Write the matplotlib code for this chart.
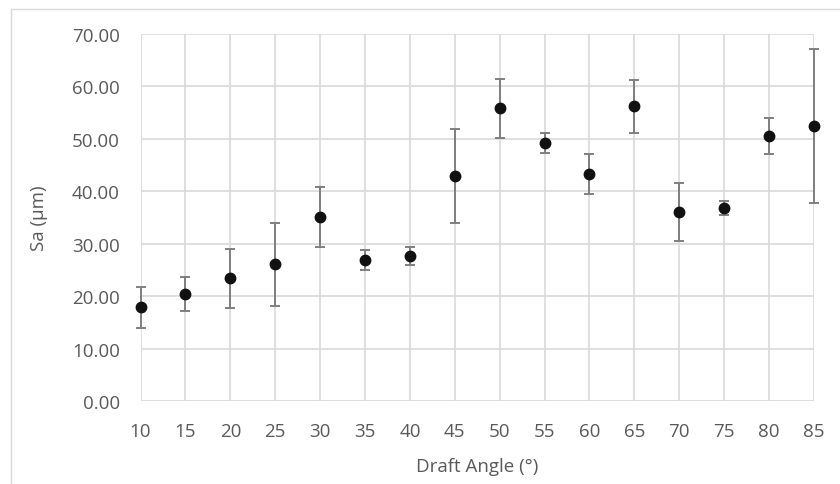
import matplotlib
matplotlib.use("Agg")
import matplotlib.pyplot as plt
from matplotlib.patches import Rectangle

# Surface roughness vs. draft angle
angles = [10, 15, 20, 25, 30, 35, 40, 45, 50, 55, 60, 65, 70, 75, 80, 85]
sa_mean = [17.9, 20.4, 23.4, 26.1, 35.1, 26.9, 27.6, 42.9,
           55.8, 49.2, 43.3, 56.2, 36.1, 36.8, 50.6, 52.4]
sa_err = [3.9, 3.2, 5.6, 7.9, 5.8, 1.95, 1.7, 9.0,
          5.7, 1.85, 3.85, 5.1, 5.55, 1.35, 3.45, 14.7]

TEXT = "#595959"
GRID = "#d9d9d9"

plt.rcParams["font.family"] = ["Open Sans", "DejaVu Sans"]

fig = plt.figure(figsize=(8.4, 4.85), dpi=100)
ax = fig.add_axes([0.1673, 0.1711, 0.8017, 0.7567])

# chart area border (only top/left edges fall inside the image)
fig.patches.append(Rectangle((11 / 840, -0.1), 1.0, 1 - 9.5 / 485 + 0.1,
                             transform=fig.transFigure, fill=False,
                             edgecolor=GRID, linewidth=1.0))

ax.errorbar(angles, sa_mean, yerr=sa_err, fmt="o", color="#111111",
            markersize=7.5, ecolor="#7f7f7f", elinewidth=1.4,
            capsize=3.6, capthick=1.4, zorder=3, clip_on=False)

ax.set_xlim(10, 85)
ax.set_ylim(0, 70)
ax.set_xticks(angles)
ax.set_yticks(range(0, 71, 10))
ax.set_yticklabels([f"{v:.2f}" for v in range(0, 71, 10)])

ax.grid(True, color=GRID, linewidth=1.2)
ax.set_axisbelow(True)
for s in ax.spines.values():
    s.set_visible(False)
ax.tick_params(length=0, colors=TEXT, labelsize=13.5)
ax.tick_params(axis="x", pad=15)
ax.tick_params(axis="y", pad=15)

ax.set_xlabel("Draft Angle (°)", color=TEXT, fontsize=13.5, labelpad=12)
ax.set_ylabel("Sa (µm)", color=TEXT, fontsize=13.5, labelpad=17)

fig.savefig("out.png", dpi=100)
